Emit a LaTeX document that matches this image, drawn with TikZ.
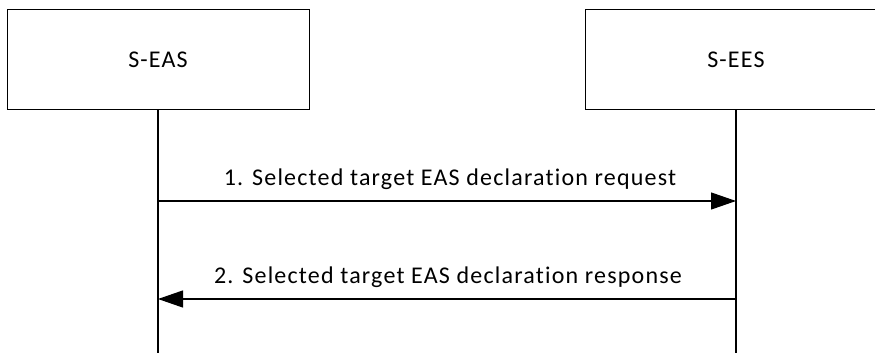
\documentclass[tikz,border=0pt]{standalone}
\usepackage{fontspec}
\setmainfont{Carlito}[Ligatures=NoCommon, LetterSpace=5]
\usetikzlibrary{arrows.meta,positioning}
\definecolor{SeqLine}{HTML}{000000}
\definecolor{SeqBox}{HTML}{FFFFFF}
\tikzset{
  entitybox/.style={draw=SeqLine, fill=SeqBox, line width=1pt, inner sep=0pt,
                    minimum width=302pt, minimum height=99pt, font=\fontsize{24}{28}\selectfont},
  lifeline/.style={draw=SeqLine, line width=1.5pt},
  msgarrow/.style={-{Triangle[length=25pt,width=17pt]}, line width=1.2pt, SeqLine},
  msglabel/.style={font=\fontsize{24}{28}\selectfont, anchor=base},
}
\begin{document}
\begin{tikzpicture}[x=1pt,y=-1pt]
  \useasboundingbox (0,0) rectangle (875,353);
  \begin{scope}
    \clip (0,0) rectangle (875,353);

    % entities
    \node[entitybox] (seas) at (158,59.5) {S-EAS};
    \node[entitybox] (sees) at (736,59.5) {S-EES};

    % lifeline ends
    \coordinate (seasEnd) at (158,353);
    \coordinate (seesEnd) at (736,353);
    \draw[lifeline] (seas.south) -- (seasEnd);
    \draw[lifeline] (sees.south) -- (seesEnd);

    % messages
    \coordinate (m1a) at (158,201);
    \coordinate (m1b) at (736,201);
    \coordinate (m2a) at (736,299);
    \coordinate (m2b) at (158,299);
    \draw[msgarrow] (m1a) -- (m1b);
    \draw[msgarrow] (m2a) -- (m2b);
    \node[msglabel] (l1) at (450,185) {1. Selected target EAS declaration request};
    \node[msglabel] (l2) at (448,283) {2. Selected target EAS declaration response};
  \end{scope}
\end{tikzpicture}
\end{document}
